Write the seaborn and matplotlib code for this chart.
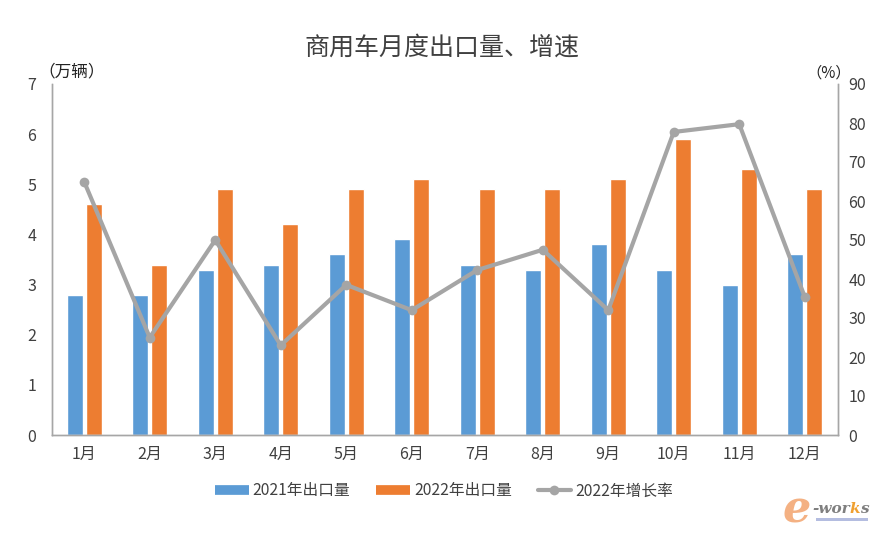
import matplotlib
matplotlib.use("Agg")
import matplotlib.pyplot as plt
import pandas as pd
import seaborn as sns
from matplotlib.lines import Line2D
from matplotlib.patches import Rectangle

months = ["1月", "2月", "3月", "4月", "5月", "6月", "7月", "8月", "9月", "10月", "11月", "12月"]
export_2021 = [2.8, 2.8, 3.3, 3.4, 3.6, 3.9, 3.4, 3.3, 3.8, 3.3, 3.0, 3.6]
export_2022 = [4.6, 3.4, 4.9, 4.2, 4.9, 5.1, 4.9, 4.9, 5.1, 5.9, 5.3, 4.9]
growth_2022 = [64.9, 25.0, 50.0, 23.0, 38.5, 32.0, 42.3, 47.5, 32.0, 77.7, 79.7, 35.4]

BLUE = "#5B9BD5"
ORANGE = "#ED7D31"
GRAY = "#A5A5A5"
TEXT = "#404040"

sns.set_theme(style="white")
plt.rcParams["font.family"] = ["Noto Sans CJK SC", "DejaVu Sans"]

df = pd.DataFrame({
    "month": months * 2,
    "value": export_2021 + export_2022,
    "series": ["2021年出口量"] * 12 + ["2022年出口量"] * 12,
})

fig = plt.figure(figsize=(8.8, 5.33), dpi=100)
ax = fig.add_axes([51.5 / 880, 98 / 533, 786 / 880, 351 / 533])
sns.barplot(
    data=df, x="month", y="value", hue="series", ax=ax,
    palette=[BLUE, ORANGE], width=0.58, gap=0.17, saturation=1, legend=False,
)
ax.set_xlim(-0.5, 11.5)
ax.set_ylim(0, 7)
ax.set_xlabel("")
ax.set_ylabel("")
ax.tick_params(axis="x", length=0, labelsize=11.5, labelcolor=TEXT, pad=8)
ax.tick_params(axis="y", length=0, labelsize=11.5, labelcolor=TEXT, pad=11)

ax2 = ax.twinx()
sns.lineplot(
    x=list(range(12)), y=growth_2022, ax=ax2, color=GRAY, linewidth=3,
    marker="o", markersize=7, markeredgewidth=0, zorder=5,
)
ax2.set_ylim(0, 90)
ax2.set_yticks(range(0, 100, 10))
ax2.tick_params(axis="y", length=0, labelsize=11.5, labelcolor=TEXT, pad=8)
ax2.grid(False)
ax.grid(False)

for a in (ax, ax2):
    a.spines["top"].set_visible(False)
    for side in ("left", "right", "bottom"):
        a.spines[side].set_color("#A6A6A6")
        a.spines[side].set_linewidth(1)

fig.text(442 / 880, 1 - 48 / 533, "商用车月度出口量、增速", ha="center", va="center",
         fontsize=18, color=TEXT)
fig.text(72 / 880, 1 - 72 / 533, "（万辆）", ha="center", va="center", fontsize=12, color="#222222")
fig.text(829 / 880, 1 - 73 / 533, "（%）", ha="center", va="center", fontsize=11, color="#222222")

handles = [
    Line2D([], [], color=BLUE, lw=7, solid_capstyle="butt"),
    Line2D([], [], color=ORANGE, lw=7, solid_capstyle="butt"),
    Line2D([], [], color=GRAY, lw=3, marker="o", markersize=7, markeredgewidth=0),
]
fig.legend(
    handles, ["2021年出口量", "2022年出口量", "2022年增长率"],
    loc="center", bbox_to_anchor=(444 / 880, 1 - 491 / 533), ncol=3, frameon=False,
    fontsize=11.3, labelcolor=TEXT, handlelength=2.15, handletextpad=0.25, columnspacing=1.65,
)

# e-works watermark
fig.text(797 / 880, 1 - 510 / 533, "e", fontsize=32, style="italic", weight="bold", color="#F4B183",
         ha="center", va="center", family="DejaVu Serif")
fig.text(812 / 880, 1 - 509 / 533, "-wor", fontsize=11, style="italic", weight="bold", color="#7F7F7F",
         ha="left", va="center", family="DejaVu Serif")
fig.text(849 / 880, 1 - 509 / 533, "k", fontsize=11, style="italic", weight="bold", color="#F0A030",
         ha="left", va="center", family="DejaVu Serif")
fig.text(860 / 880, 1 - 509 / 533, "s", fontsize=11, style="italic", weight="bold", color="#7F7F7F",
         ha="left", va="center", family="DejaVu Serif")
fig.add_artist(Rectangle((816 / 880, 1 - 521 / 533), 52 / 880, 3 / 533, transform=fig.transFigure,
                         color="#B4BDE0", lw=0))

fig.savefig("out.png", dpi=100)
